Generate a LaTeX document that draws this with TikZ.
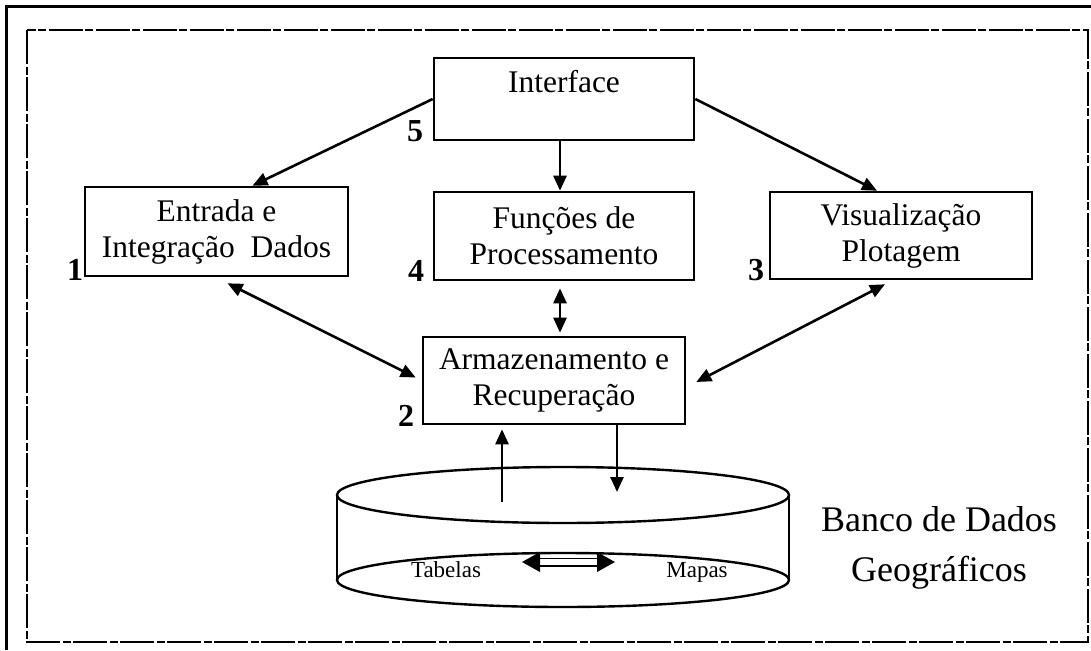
\documentclass[tikz,border=0pt]{standalone}
\usepackage{fontspec}
\setmainfont{Liberation Serif}
\usetikzlibrary{arrows.meta,calc}
\begin{document}
\begin{tikzpicture}[x=1pt,y=-1pt,
  box/.style={draw,line width=2.6pt,rectangle,inner sep=0pt,align=center,font=\fontsize{31.5}{36}\selectfont},
  num/.style={font=\bfseries\fontsize{32}{32}\selectfont,inner sep=0pt,anchor=base},
  arr/.style={line width=2.6pt,-{Triangle[length=15pt,width=13pt]}},
  darr/.style={line width=2.6pt,{Triangle[length=15pt,width=13pt]}-{Triangle[length=15pt,width=13pt]}},
  dbtext/.style={font=\fontsize{23}{23}\selectfont,inner sep=0pt,anchor=base},
  frame/.style={line width=1.4pt,dash pattern=on 34pt off 3pt on 8pt off 2pt}]
\useasboundingbox (0,0) rectangle (1091,650);
\fill[white] (0,0) rectangle (1091,650);
% outer and inner frames
\draw[line width=3pt] (6,650) -- (6,7) -- (1091,7);
\draw[frame] (27,30) rectangle (1088,642);
% boxes
\node[box,minimum width=260pt,minimum height=82pt] (interface) at (564,99) {};
\node[font=\fontsize{31.5}{31.5}\selectfont,inner sep=0pt,anchor=base] (interfacetxt) at (564,93) {Interface};
\node[box,minimum width=260pt,minimum height=88pt] (funcoes) at (564,236) {Funções de\\Processamento};
\node[box,minimum width=263pt,minimum height=89pt] (entrada) at (216.5,231.5) {Entrada e\\Integração~ Dados};
\node[box,minimum width=262pt,minimum height=87pt] (visual) at (901,235.5) {Visualização\\Plotagem};
\node[box,minimum width=262pt,minimum height=87pt] (armaz) at (554,380.5) {Armazenamento e\\Recuperação};
% numbers
\node[num] (n5) at (415,141) {5};
\node[num] (n4) at (416,281) {4};
\node[num] (n2) at (406,426) {2};
\node[num] (n1) at (75,280) {1};
\node[num] (n3) at (756,280) {3};
% connectors
\draw[arr] (interface.west) -- ([xshift=36pt]entrada.north);
\draw[arr] (interface.east) -- ([xshift=-24pt]visual.north);
\draw[arr] ([xshift=-4pt]interface.south) -- ([xshift=-4pt]funcoes.north);
\draw[darr] ([xshift=-4pt,yshift=-7pt]funcoes.south) -- ([xshift=6pt,yshift=3pt]armaz.north);
\draw[darr] ([xshift=11pt,yshift=-6pt]entrada.south) -- ([xshift=-6pt,yshift=3pt]armaz.west);
\draw[darr] ([xshift=-16pt,yshift=-4pt]visual.south) -- ([xshift=10pt,yshift=-1.5pt]armaz.east);
% cylinder
\draw[line width=2.4pt] (563,495) ellipse [x radius=226, y radius=28];
\draw[line width=2.4pt] (563,580) ellipse [x radius=226, y radius=27];
\draw[line width=2.4pt] (337,495) -- (337,580);
\draw[line width=2.4pt] (789,495) -- (789,580);
\coordinate (upstart) at (502,502);
\coordinate (downend) at (617,492);
\draw[arr] (upstart) -- ([xshift=-52pt,yshift=-4pt]armaz.south);
\draw[arr] ([xshift=63pt]armaz.south) -- (downend);
% inside database
\node[dbtext] (tabelas) at (446,577) {Tabelas};
\node[dbtext] (mapas) at (697,577) {Mapas};
\coordinate (dl) at (522,562);
\coordinate (dr) at (615,562);
\fill (dl) -- ++(18,-10) -- ++(0,20) -- cycle;
\fill (dr) -- ++(-18,-10) -- ++(0,20) -- cycle;
\draw[line width=1.4pt] ([xshift=16pt,yshift=3.5pt]dl) -- ([xshift=-16pt,yshift=3.5pt]dr);
\draw[line width=2pt] ([xshift=16pt,yshift=-3.5pt]dl) -- ([xshift=-16pt,yshift=-3.5pt]dr);
% label
\node[font=\fontsize{36}{50}\selectfont,align=center,inner sep=0pt] (banco) at (939,548) {Banco de Dados\\Geográficos};
\end{tikzpicture}
\end{document}
